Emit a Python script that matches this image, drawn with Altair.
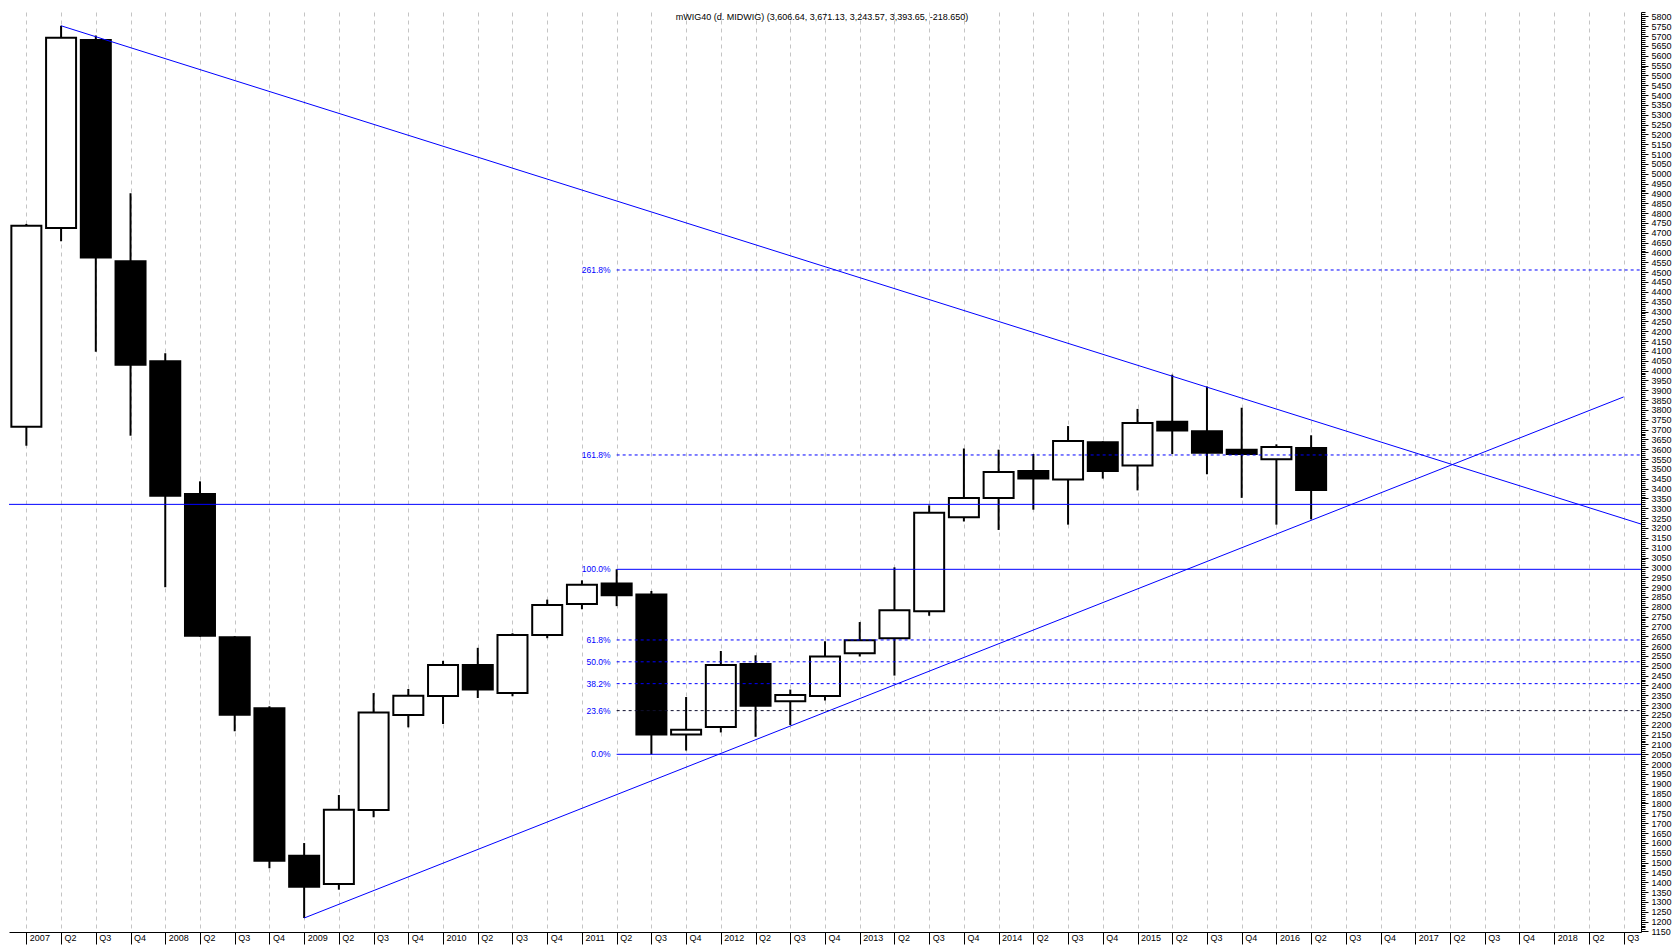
import altair as alt
import pandas as pd

# ---------------- data (quarterly mWIG40 candles, 2007Q1 .. 2016Q2) ----------------
quarter_index = list(range(38))
opens = [3715, 4724, 5680, 4555, 4047, 3373, 2645, 2284, 1535, 1391, 1767, 2250,
         2346, 2504, 2362, 2656, 2814, 2918, 2862, 2150, 2189, 2509, 2319, 2346,
         2564, 2640, 2777, 3255, 3353, 3490, 3446, 3636, 3517, 3740, 3691, 3598,
         3549, 3606.64]
highs = [4745, 5752, 5702, 4901, 4088, 3437, 2650, 2294, 1599, 1843, 2361, 2382,
         2525, 2591, 2665, 2836, 2934, 2990, 2880, 2341, 2575, 2553, 2379, 2624,
         2722, 3000, 3315, 3604, 3598, 3576, 3718, 3640, 3805, 3979, 3919, 3811,
         3625, 3671.13]
lows = [3618, 4657, 4096, 3669, 2899, 2648, 2167, 1471, 1218, 1362, 1730, 2187,
        2204, 2336, 2345, 2640, 2787, 2803, 2050, 2069, 2161, 2139, 2199, 2324,
        2547, 2450, 2754, 3233, 3190, 3293, 3217, 3451, 3391, 3576, 3473, 3353,
        3217, 3243.57]
closes = [4736, 5691, 4575, 4030, 3364, 2653, 2251, 1509, 1377, 1768, 2263, 2348,
          2504, 2379, 2656, 2809, 2912, 2858, 2150, 2175, 2504, 2297, 2351, 2547,
          2629, 2782, 3277, 3353, 3484, 3451, 3642, 3490, 3734, 3696, 3582, 3576,
          3612, 3393.65]

x_tick_labels = ["2007", "Q2", "Q3", "Q4", "2008", "Q2", "Q3", "Q4",
                 "2009", "Q2", "Q3", "Q4", "2010", "Q2", "Q3", "Q4",
                 "2011", "Q2", "Q3", "Q4", "2012", "Q2", "Q3", "Q4",
                 "2013", "Q2", "Q3", "Q4", "2014", "Q2", "Q3", "Q4",
                 "2015", "Q2", "Q3", "Q4", "2016", "Q2", "Q3", "Q4",
                 "2017", "Q2", "Q3", "Q4", "2018", "Q2", "Q3"]

# Fibonacci levels (anchored at 2011Q2)
fib_labels = ["0.0%", "23.6%", "38.2%", "50.0%", "61.8%", "100.0%", "161.8%", "261.8%"]
fib_values = [2050, 2272, 2409, 2520, 2631, 2990, 3571, 4511]
fib_styles = ["solid", "dash", "dash", "dash", "dash", "solid", "dash", "dash"]
fib_colors = ["#0000ff", "#101030", "#0000ff", "#0000ff", "#0000ff", "#0000ff", "#0000ff", "#0000ff"]
fib_start = [17, 17, 17, 17, 17, 17, 17, 17]
fib_end = [46.5] * 8

hline_value = [3320]

# trend lines (quarter index, value)
upper_x = [1, 46.5]
upper_y = [5752, 3220]
lower_x = [8, 46]
lower_y = [1218, 3866]

title_text = "mWIG40 (d. MIDWIG) (3,606.64, 3,671.13, 3,243.57, 3,393.65, -218.650)"

# ---------------- build tables ----------------
df = pd.DataFrame({"idx": quarter_index, "open": opens, "high": highs,
                   "low": lows, "close": closes})
df["top"] = df[["open", "close"]].max(axis=1)
df["bot"] = df[["open", "close"]].min(axis=1)
df["dir"] = ["up" if c >= o else "down" for o, c in zip(opens, closes)]

fib = pd.DataFrame({"label": fib_labels, "v": fib_values, "style": fib_styles,
                    "col": fib_colors, "x0": fib_start, "x1": fib_end})
trend = pd.DataFrame({"x": upper_x + lower_x, "y": upper_y + lower_y,
                      "line": ["upper"] * 2 + ["lower"] * 2})

W, H = 1632, 920
FONT = "Liberation Sans"
xs = alt.Scale(domain=[-0.5, 46.5], nice=False, zero=False, padding=0)
ys = alt.Scale(domain=[1147, 5822], nice=False, zero=False, padding=0)

label_js = "[" + ",".join("'" + s + "'" for s in x_tick_labels) + "][datum.value]"

x_axis = alt.Axis(
    values=list(range(len(x_tick_labels))), labelExpr=label_js, title=None,
    grid=True, gridDash=[4, 4], gridColor="#c4c4c4", gridWidth=1,
    tickSize=12, tickColor="black", domainColor="black",
    labelAlign="left", labelBaseline="top", labelPadding=-11, labelOffset=3,
    labelFont=FONT, labelFontSize=9, labelColor="black",
    labelOverlap=False, labelFlush=False, labelBound=False,
)
y_axis = alt.Axis(
    orient="right", values=list(range(1150, 5821, 10)), title=None, grid=False,
    labelExpr="(datum.value % 50 === 0) ? format(datum.value, 'd') : ''",
    tickSize={"condition": {"test": "datum.value % 50 === 0", "value": 7}, "value": 4},
    tickColor="black", domainColor="black", labelPadding=3,
    labelFont=FONT, labelFontSize=9, labelColor="black",
    labelOverlap=False, labelFlush=False, labelBound=False,
)

wicks = alt.Chart(df).mark_rule(color="black", strokeWidth=2).encode(
    x=alt.X("idx:Q", scale=xs, axis=x_axis),
    y=alt.Y("low:Q", scale=ys, axis=y_axis),
    y2="high:Q",
)

bodies = alt.Chart(df).mark_bar(size=30, stroke="black", strokeWidth=2).encode(
    x=alt.X("idx:Q", scale=xs, axis=x_axis),
    y=alt.Y("bot:Q", scale=ys, axis=y_axis),
    y2="top:Q",
    fill=alt.Fill("dir:N", scale=alt.Scale(domain=["up", "down"], range=["white", "black"]), legend=None),
)

hline = alt.Chart(pd.DataFrame({"v": hline_value})).mark_rule(color="#0000ff", strokeWidth=1).encode(
    y=alt.Y("v:Q", scale=ys, axis=y_axis),
)

fib_solid = alt.Chart(fib[fib["style"] == "solid"]).mark_rule(color="#0000ff", strokeWidth=1).encode(
    x=alt.X("x0:Q", scale=xs, axis=x_axis), x2="x1:Q",
    y=alt.Y("v:Q", scale=ys, axis=y_axis),
)
fib_dash = alt.Chart(fib[fib["style"] == "dash"]).mark_rule(strokeWidth=1, strokeDash=[3, 3]).encode(
    x=alt.X("x0:Q", scale=xs, axis=x_axis), x2="x1:Q",
    y=alt.Y("v:Q", scale=ys, axis=y_axis),
    color=alt.Color("col:N", scale=None, legend=None),
)
fib_text = alt.Chart(fib).mark_text(align="right", baseline="middle", dx=-6, font=FONT,
                                     fontSize=8.5, color="#0000ff").encode(
    x=alt.X("x0:Q", scale=xs, axis=x_axis),
    y=alt.Y("v:Q", scale=ys, axis=y_axis),
    text="label:N",
)

trendlines = alt.Chart(trend).mark_line(color="#0000ff", strokeWidth=1, clip=True).encode(
    x=alt.X("x:Q", scale=xs, axis=x_axis),
    y=alt.Y("y:Q", scale=ys, axis=y_axis),
    detail="line:N",
)

title = alt.Chart(pd.DataFrame({"t": [title_text]})).mark_text(
    font=FONT, fontSize=9, color="black", align="center", baseline="middle"
).encode(x=alt.value(W / 2 - 3), y=alt.value(4.5), text="t:N")

chart = alt.layer(
    wicks, bodies, hline, fib_solid, fib_dash, fib_text, trendlines, title
).properties(
    width=W, height=H, padding={"left": 0, "top": 0, "right": 0, "bottom": 0},
    background="white",
).configure_view(stroke=None)

chart.save("out.html", embed_options={"renderer": "svg", "actions": False})
